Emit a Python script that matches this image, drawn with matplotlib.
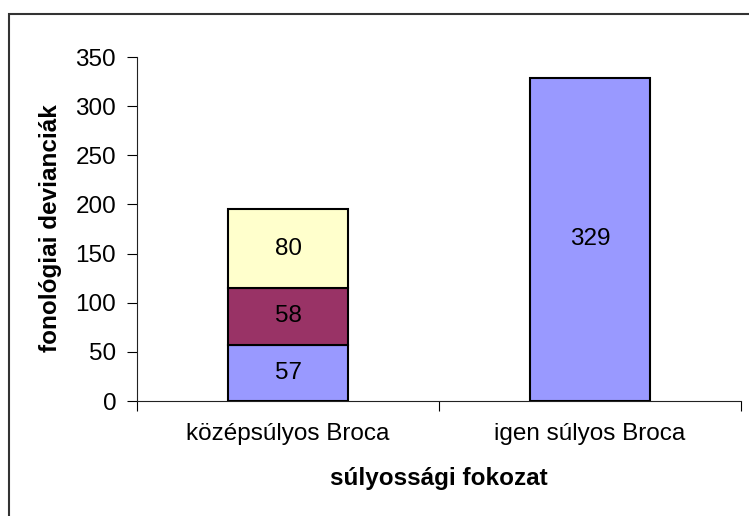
import matplotlib.pyplot as plt
from matplotlib.patches import Rectangle

plt.rcParams['font.family'] = ['Liberation Sans', 'DejaVu Sans']

categories = ['középsúlyos Broca', 'igen súlyos Broca']
seg1 = [57, 329]
seg2 = [58, 0]
seg3 = [80, 0]
colors = ['#9999FF', '#993366', '#FFFFCC']
yticks = [0, 50, 100, 150, 200, 250, 300, 350]
fs = 17.5

fig = plt.figure(figsize=(7.49, 5.16), dpi=100)
ax = fig.add_axes([137 / 749, 1 - 401 / 516, (741 - 137) / 749, (401 - 57) / 516])

# outer chart frame (only left/top visible in the picture)
fig.patches.append(Rectangle((9 / 749, -0.1), 1.2, 1 - 14 / 516 + 0.1,
                             transform=fig.transFigure, fill=False,
                             edgecolor='#333333', linewidth=1.5))

x = list(range(len(categories)))
bottom = [0] * len(categories)
for vals, col in zip([seg1, seg2, seg3], colors):
    for i, v in enumerate(vals):
        if v == 0:
            continue
        ax.bar(x[i], v, width=0.4, bottom=bottom[i], color=col,
               edgecolor='black', linewidth=1.5, zorder=3)
        ax.text(x[i], bottom[i] + v / 2, str(v), ha='center', va='center',
                fontsize=fs, zorder=4)
        bottom[i] += v

ax.set_xlim(-0.5, 1.5)
ax.set_ylim(0, 350)
ax.set_yticks(yticks)
ax.set_xticks([-0.5, 0.5, 1.5])
ax.set_xticklabels([])
ax.set_xticks(x, minor=True)
ax.set_xticklabels(categories, minor=True)
ax.tick_params(axis='x', which='minor', length=0, pad=15.5, labelsize=fs)
ax.tick_params(axis='x', which='major', length=7, direction='out')
ax.tick_params(axis='y', length=7, direction='out', labelsize=fs, pad=8)

for s in ['top', 'right']:
    ax.spines[s].set_visible(False)
for s in ['left', 'bottom']:
    ax.spines[s].set_color('#222222')

ax.set_ylabel('fonológiai devianciák', fontsize=fs, fontweight='bold')
ax.set_xlabel('súlyossági fokozat', fontsize=fs, fontweight='bold')
ax.yaxis.set_label_coords((50 - 137) / 604, (401 - 228) / 344)
ax.yaxis.label.set_va('center')
ax.xaxis.set_label_coords(0.5, (401 - 479) / 344)
ax.xaxis.label.set_va('center')

fig.savefig('out.png', dpi=100)
